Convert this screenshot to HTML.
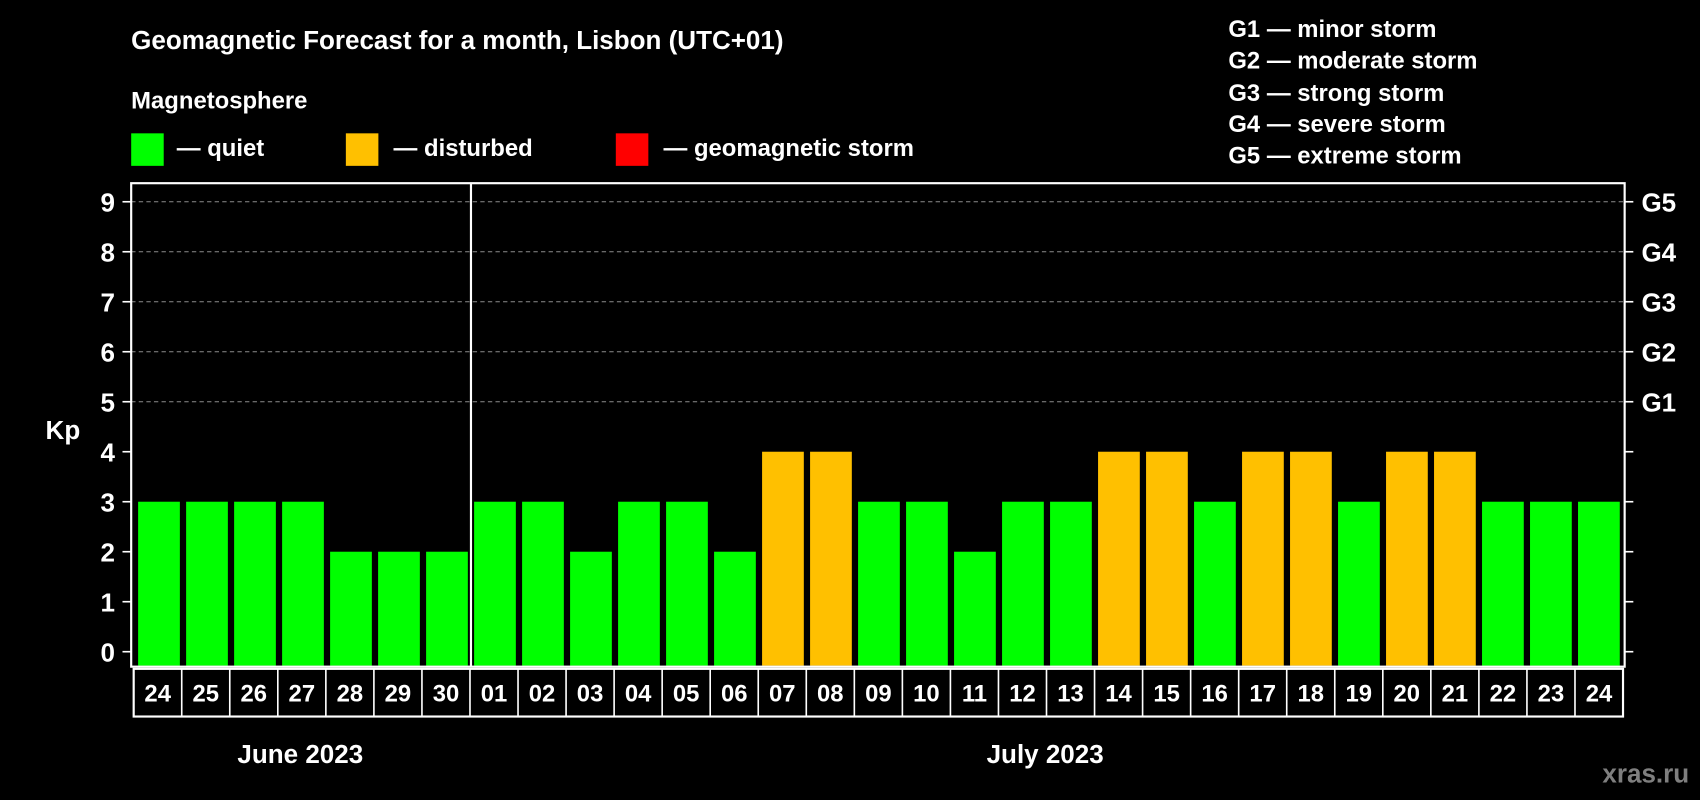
<!DOCTYPE html>
<html><head><meta charset="utf-8">
<style>
html,body{margin:0;padding:0;background:#000;}
svg{display:block;}
text{font-family:"Liberation Sans",Arial,sans-serif;font-weight:bold;fill:#fff;}
</style></head>
<body>
<svg id="chart" width="1700" height="800" viewBox="0 0 1568 738" preserveAspectRatio="none" xmlns="http://www.w3.org/2000/svg">
<rect x="0" y="0" width="1568" height="738" fill="#000"/>
<text x="121" y="45" font-size="24">Geomagnetic Forecast for a month, Lisbon (UTC+01)</text>
<text x="121" y="100" font-size="22">Magnetosphere</text>
<g>
<rect x="121" y="123" width="30" height="30" fill="#00ff00"/>
<text x="163" y="144" font-size="22">— quiet</text>
</g>
<g>
<rect x="319" y="123" width="30" height="30" fill="#ffc000"/>
<text x="363" y="144" font-size="22">— disturbed</text>
</g>
<g>
<rect x="568" y="123" width="30" height="30" fill="#ff0000"/>
<text x="612" y="144" font-size="22">— geomagnetic storm</text>
</g>
<g font-size="22">
<text x="1133" y="34">G1 — minor storm</text>
<text x="1133" y="63">G2 — moderate storm</text>
<text x="1133" y="93">G3 — strong storm</text>
<text x="1133" y="122">G4 — severe storm</text>
<text x="1133" y="151">G5 — extreme storm</text>
</g>
<text x="58" y="405" font-size="24" text-anchor="middle">Kp</text>
<text x="277" y="704" font-size="24" text-anchor="middle">June 2023</text>
<text x="964" y="704" font-size="24" text-anchor="middle">July 2023</text>
<text x="1558" y="722" font-size="24" text-anchor="end" style="fill:#7f7f7f">xras.ru</text>
<g id="grid"></g>
<g id="bars"></g>
<g id="axes"></g>
<g id="dates"></g>
</svg>
<script>
const days = ["24","25","26","27","28","29","30","01","02","03","04","05","06","07","08","09","10","11","12","13","14","15","16","17","18","19","20","21","22","23","24"];
const kpValues = [3,3,3,3,2,2,2,3,3,2,3,3,2,4,4,3,3,2,3,3,4,4,3,4,4,3,4,4,3,3,3];
const yTicks = [0,1,2,3,4,5,6,7,8,9];
const gLabels = ["G1","G2","G3","G4","G5"];
const gLevels = [5,6,7,8,9];
const monthSplitIndex = 7;

const NS = "http://www.w3.org/2000/svg";
const plotL = 121, plotR = 1498.5, plotT = 169, plotB = 615;
const y0 = 601.2, unit = 46.12;
const firstX = 127.4, pitch = 44.27, barW = 38.5;
function yScale(v){ return y0 - v*unit; }
function xScale(i){ return firstX + i*pitch; }
function mk(tag, attrs, parent){
  const e = document.createElementNS(NS, tag);
  for (const k in attrs) e.setAttribute(k, attrs[k]);
  parent.appendChild(e);
  return e;
}
function colorFor(v){ return v >= 5 ? "#ff0000" : (v >= 4 ? "#ffc000" : "#00ff00"); }

const grid = document.getElementById("grid");
const bars = document.getElementById("bars");
const axes = document.getElementById("axes");
const dates = document.getElementById("dates");

gLevels.forEach(function(v){
  const l = mk("line", {x1: plotL, x2: plotR, y1: yScale(v), y2: yScale(v), stroke: "#8c8c8c", "stroke-width": 1, "stroke-dasharray": "4,3"}, grid);
  
  
});

kpValues.forEach(function(v, i){
  const r = mk("rect", {x: xScale(i), y: yScale(v), width: barW, height: plotB - 1 - yScale(v), fill: colorFor(v)}, bars);
  
  
});

const frame = mk("rect", {x: plotL, y: plotT, width: plotR - plotL, height: plotB - plotT, fill: "none", stroke: "#fff", "stroke-width": 2}, axes);


const splitX = (xScale(monthSplitIndex - 1) + barW + xScale(monthSplitIndex)) / 2;
const div = mk("line", {x1: splitX, x2: splitX, y1: plotT, y2: plotB, stroke: "#fff", "stroke-width": 2}, axes);



yTicks.forEach(function(v){
  const y = yScale(v);
  const t = mk("line", {x1: plotL - 8, x2: plotL, y1: y, y2: y, stroke: "#fff", "stroke-width": 1.5}, axes);
  
  
  const t2 = mk("line", {x1: plotR, x2: plotR + 8, y1: y, y2: y, stroke: "#fff", "stroke-width": 1.5}, axes);
  
  
  const lb = mk("text", {x: 106, y: y + 9, "font-size": 24, "text-anchor": "end"}, axes);
  lb.textContent = v;
  
  
});
gLabels.forEach(function(g, i){
  const lb = mk("text", {x: 1514, y: yScale(gLevels[i]) + 9, "font-size": 24}, axes);
  lb.textContent = g;
  
  
});

const boxL = 123.3, boxR = 1497, boxT = 617, boxB = 661;
const cellW = (boxR - boxL) / days.length;
const box = mk("rect", {x: boxL, y: boxT, width: boxR - boxL, height: boxB - boxT, fill: "none", stroke: "#fff", "stroke-width": 2}, dates);


days.forEach(function(d, i){
  const cx = boxL + i*cellW;
  if (i > 0) {
    const sep = mk("line", {x1: cx, x2: cx, y1: boxT, y2: boxB, stroke: "#fff", "stroke-width": 1.5}, dates);
    
    
  }
  const t = mk("text", {x: cx + cellW/2, y: 647, "font-size": 22, "text-anchor": "middle"}, dates);
  t.textContent = d;
  
  
});
</script>
</body></html>
